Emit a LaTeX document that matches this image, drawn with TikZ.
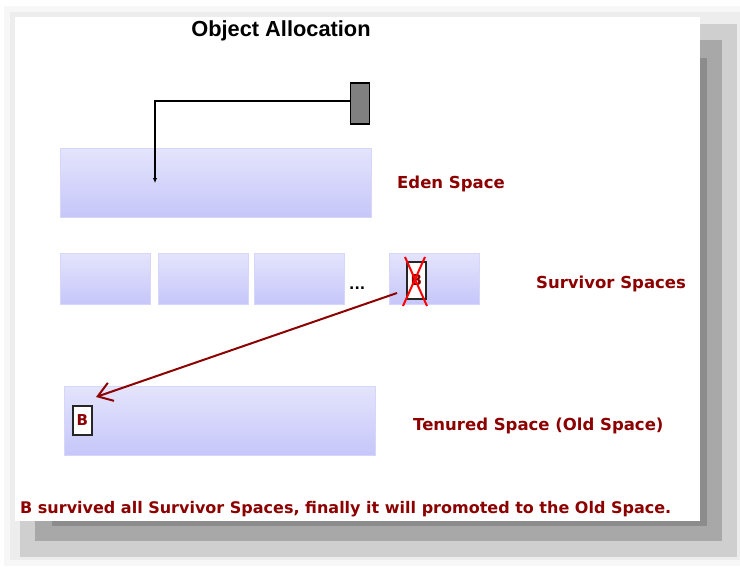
\documentclass[tikz,border=0pt]{standalone}
\usepackage{fontspec}
\usetikzlibrary{arrows.meta}
\newfontfamily\labelfont{DejaVu Sans}
\newfontfamily\titlefont{Liberation Sans}
\definecolor{labelred}{RGB}{140,0,0}
\definecolor{spaceTop}{RGB}{228,228,252}
\definecolor{spaceBot}{RGB}{198,198,250}
\definecolor{spaceEdge}{RGB}{214,214,250}
\definecolor{allocGray}{RGB}{128,128,128}
\begin{document}
\begin{tikzpicture}[x=1pt,y=-1pt,
  space/.style={draw=spaceEdge, line width=1pt, top color=spaceTop,
    bottom color=spaceBot, anchor=north west, inner sep=0pt},
  objbox/.style={draw=black!85, line width=1.6pt, fill=white, anchor=north west,
    inner sep=0pt, minimum width=19pt, text=labelred,
    font=\labelfont\bfseries\fontsize{15}{16}\selectfont},
  lbl/.style={anchor=base west, inner sep=0pt, text=labelred,
    font=\labelfont\bfseries\fontsize{16.5}{18}\selectfont},
  note/.style={anchor=base west, inner sep=0pt, text=labelred,
    font=\labelfont\bfseries\fontsize{16}{18}\selectfont},
]
\useasboundingbox (0,0) rectangle (740,566);
% page background and the card's stepped drop shadow
\fill[white] (0,0) rectangle (740,566);
\fill[black!3] (4,6) rectangle (740,566);
\fill[black!7] (10,12) rectangle (740,560);
\fill[black!19] (20,24) rectangle (737,557);
\fill[black!34] (35,40) rectangle (722,541);
\fill[black!45] (52,58) rectangle (707,526);
\fill[white] (15,17) rectangle (700,521);

% title
\node[anchor=base, inner sep=0pt, font=\titlefont\bfseries\fontsize{21.8}{24}\selectfont]
  (title) at (281,36) {Object Allocation};

% new object
\node[draw=black, line width=1.6pt, fill=allocGray, anchor=north west, inner sep=0pt,
  minimum width=19pt, minimum height=41pt] (alloc) at (349.5,82) {};

% heap spaces
\node[space, minimum width=311pt, minimum height=69pt] (eden) at (59.5,147.5) {};
\node[space, minimum width=90pt, minimum height=51pt] (surv1) at (59.5,252.5) {};
\node[space, minimum width=90pt, minimum height=51pt] (surv2) at (157.5,252.5) {};
\node[space, minimum width=90pt, minimum height=51pt] (surv3) at (253.5,252.5) {};
\node[space, minimum width=90pt, minimum height=51pt] (surv4) at (388.5,252.5) {};
\node[space, minimum width=311pt, minimum height=69pt] (tenured) at (63.5,385.5) {};

\node[anchor=base west, inner sep=0pt, font=\labelfont\bfseries\fontsize{14}{15}\selectfont]
  (dots) at (349,289) {...};

% labels
\node[lbl] (edenlbl) at (397,188) {Eden Space};
\node[lbl] (survlbl) at (536,288) {Survivor Spaces};
\node[lbl] (tenlbl) at (413,430) {Tenured Space (Old Space)};
\node[note] (note) at (20,513) {B survived all Survivor Spaces, finally it will promoted to the Old Space.};

% object B: old position (struck out) and new position
\node[objbox, minimum height=37pt] (oldB) at (406,261) {B};
\draw[red, line width=2pt] (405,257) -- (427,306);
\draw[red, line width=2pt] (425,257) -- (403,306);
\node[objbox, minimum height=29pt] (newB) at (72,405) {B};

% allocation path into Eden
\coordinate (edenDrop) at (155,183);
\draw[line width=1.5pt, -{Latex[length=5pt,width=4.5pt]}] (alloc.west |- 0,101) -| (edenDrop);

% promotion to the old space
\coordinate (promoFrom) at (397,293);
\coordinate (promoTo) at (96,397);
\draw[labelred, line width=2pt, -{Straight Barb[length=14pt,width=19pt,line width=2pt]}]
  (promoFrom) -- (promoTo);
\end{tikzpicture}
\end{document}
